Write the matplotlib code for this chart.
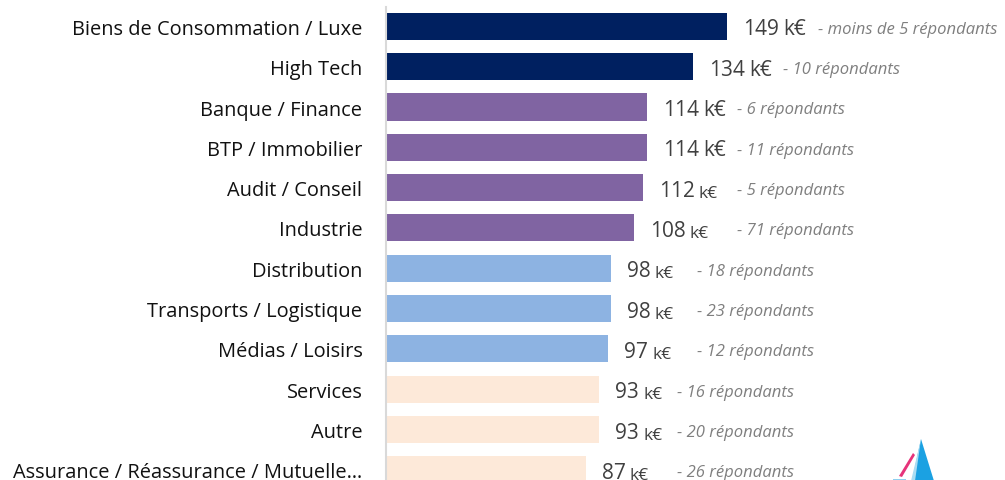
import matplotlib
matplotlib.use("Agg")
import matplotlib.pyplot as plt
from matplotlib.patches import Polygon

plt.rcParams["font.family"] = ["Open Sans", "DejaVu Sans"]

categories = [
    "Biens de Consommation / Luxe", "High Tech", "Banque / Finance",
    "BTP / Immobilier", "Audit / Conseil", "Industrie", "Distribution",
    "Transports / Logistique", "Médias / Loisirs", "Services", "Autre",
    "Assurance / Réassurance / Mutuelle…",
]
salaries = [149, 134, 114, 114, 112, 108, 98, 98, 97, 93, 93, 87]
notes = [
    "- moins de 5 répondants", "- 10 répondants", "- 6 répondants",
    "- 11 répondants", "- 5 répondants", "- 71 répondants",
    "- 18 répondants", "- 23 répondants", "- 12 répondants",
    "- 16 répondants", "- 20 répondants", "- 26 répondants",
]
groups = [0, 0, 1, 1, 1, 1, 2, 2, 2, 3, 3, 3]

group_colors = ["#002060", "#8064A2", "#8DB3E2", "#FDE9D9"]
# x position (data units) where each row's note starts
note_x = [188.7, 173.4, 153.3, 153.3, 153.3, 153.3,
          135.9, 135.9, 135.9, 127.1, 127.1, 127.1]
unit_sizes = [15, 15, 15, 15, 12.5, 12.5, 12.5, 12.5, 12.5, 12.5, 12.5, 12.5]

W, H = 1005, 481
fig = plt.figure(figsize=(W / 100, H / 100), dpi=100)
ax = fig.add_axes([386 / W, 0, 1 - 386 / W, 1 - 8 / H])

y = list(range(len(categories)))
colors = [group_colors[g] for g in groups]
ax.barh(y, salaries, height=0.67, color=colors)
ax.set_xlim(-0.3, 270.4)
ax.set_ylim(11.25, -0.48)

ax.set_yticks(y)
ax.set_yticklabels(categories, fontsize=14.4, color="#111111")
ax.tick_params(axis="y", length=0, pad=17)
ax.set_xticks([])
for side in ("top", "right", "bottom"):
    ax.spines[side].set_visible(False)
ax.spines["left"].set_color("#d9d9d9")
ax.spines["left"].set_linewidth(1.5)

for i, (v, note) in enumerate(zip(salaries, notes)):
    num = ax.text(v + 7.0, i + 0.06, f"{v}", fontsize=15, color="#404040",
                  va="center", ha="left")
    ax.annotate("k€", xy=(1, 0), xycoords=num, xytext=(3, 0),
                textcoords="offset points", fontsize=unit_sizes[i],
                color="#404040", va="bottom", ha="left")
    ax.text(note_x[i], i + 0.06, note, fontsize=12, style="italic",
            color="#7f7f7f", va="center", ha="left")

# small sail emblem in the lower right corner
def fx(px):
    return px / W


def fy(py):
    return 1 - py / H


def sail_part(points, color):
    fig.patches.append(Polygon([(fx(a), fy(b)) for a, b in points], closed=True,
                               transform=fig.transFigure, facecolor=color,
                               edgecolor="none"))


sail_part([(921, 440), (934, 482), (912, 482)], "#1BA1E2")
sail_part([(921, 440), (915, 482), (911, 482)], "#A9DDF3")
sail_part([(913, 454), (915, 456), (902, 478), (899, 477)], "#E6337A")
sail_part([(893, 480), (906, 480), (906, 482), (893, 482)], "#8FD0F0")

fig.savefig("out.png", dpi=100)
